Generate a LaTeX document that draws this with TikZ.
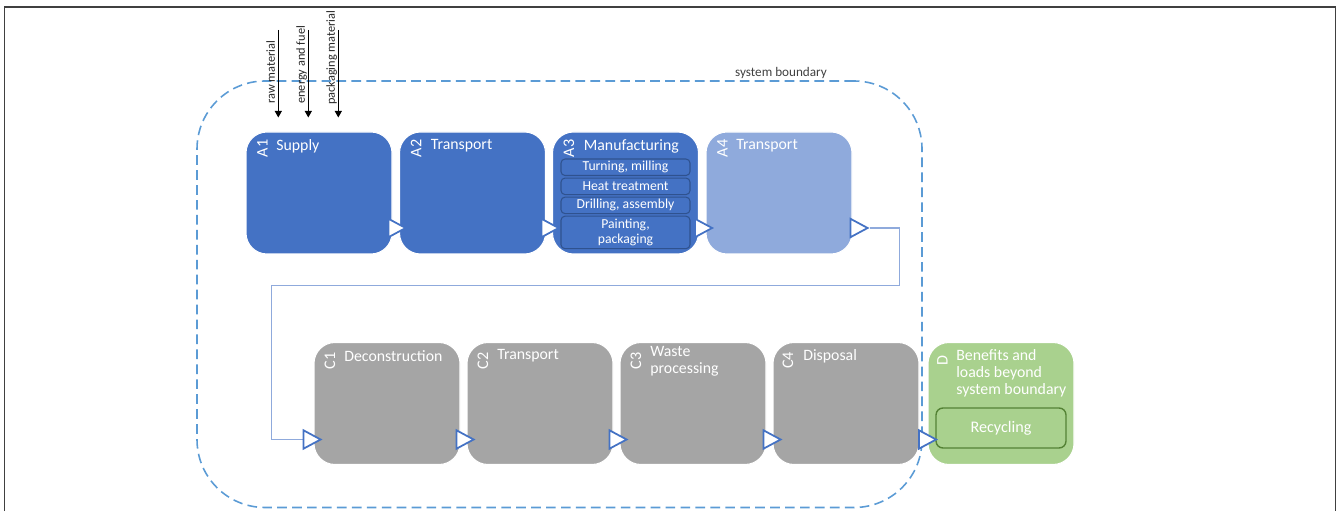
\documentclass[tikz,border=0pt]{standalone}
\usepackage{fontspec}
\setmainfont{Carlito}
\definecolor{stageblue}{RGB}{68, 114, 196}
\definecolor{stagelight}{RGB}{143, 170, 220}
\definecolor{stagegray}{RGB}{165, 165, 165}
\definecolor{stagegreen}{RGB}{169, 209, 142}
\definecolor{darkgreen}{RGB}{84, 130, 53}
\definecolor{darkblue}{RGB}{47, 82, 143}
\definecolor{boundblue}{RGB}{91, 155, 213}
\definecolor{linkblue}{RGB}{143, 170, 220}
\definecolor{framegray}{RGB}{64, 64, 64}
\usetikzlibrary{arrows.meta, positioning}
\tikzset{
    stagebox/.style={rectangle, rounded corners=0.42cm, draw=white, line width=0.6pt, fill=#1,
                     minimum width=2.92cm, minimum height=2.44cm, inner sep=0pt, outer sep=0pt},
    substep/.style={rectangle, rounded corners=0.08cm, draw=darkblue, line width=0.6pt, fill=stageblue,
                    minimum width=2.58cm, minimum height=0.33cm, inner sep=0pt, align=center,
                    text=white, font=\fontsize{7.8}{8.6}\selectfont},
    codelabel/.style={rotate=90, inner sep=0pt, text=white, font=\fontsize{9.2}{10}\selectfont},
    stagetitle/.style={anchor=west, inner sep=0pt, align=left, text=white, font=\fontsize{9}{9.8}\selectfont},
    steparrow/.style={stageblue, line width=1pt, -{Triangle[length=0.4cm, width=0.42cm, fill=white]}},
    linkline/.style={linkblue, line width=0.8pt,
                     -{Triangle[length=0.4cm, width=0.42cm, color=stageblue, fill=white, line width=1pt]}},
    feedarrow/.style={-{Triangle[length=0.13cm, width=0.14cm]}, line width=0.6pt, black},
    feedlabel/.style={rotate=90, anchor=base west, inner sep=0pt, text=black!85, font=\fontsize{7}{8}\selectfont},
    boundarybox/.style={draw=boundblue, dash pattern=on 5.5pt off 3pt, line width=0.9pt, rounded corners=1.36cm},
}

\begin{document}
\begin{tikzpicture}
    \useasboundingbox (0,0) rectangle (26.74,10.22);
    % outer frame
    \draw[framegray, line width=1.1pt] (0.09,0) |- (26.71,10.08) -- (26.71,0);

    % system boundary
    \node[boundarybox, minimum width=14.5cm, minimum height=8.53cm] (boundary) at (11.19,4.335) {};
    \node[font=\fontsize{7.5}{9}\selectfont, text=framegray] (boundlabel) at (15.62,8.77) {system boundary};

    % product stage A1-A4
    \node[stagebox=stageblue] (A1) at (6.38,6.36) {};
    \node[stagebox=stageblue, right=0.15cm of A1] (A2) {};
    \node[stagebox=stageblue, right=0.14cm of A2] (A3) {};
    \node[stagebox=stagelight, right=0.15cm of A3] (A4) {};

    \node[codelabel] (A1c) at ([xshift=0.33cm, yshift=-0.33cm]A1.north west) {A1};
    \node[stagetitle] (A1t) at ([xshift=0.6cm, yshift=-0.28cm]A1.north west) {Supply};
    \node[codelabel] (A2c) at ([xshift=0.33cm, yshift=-0.33cm]A2.north west) {A2};
    \node[stagetitle] (A2t) at ([xshift=0.62cm, yshift=-0.28cm]A2.north west) {Transport};
    \node[codelabel] (A3c) at ([xshift=0.33cm, yshift=-0.33cm]A3.north west) {A3};
    \node[stagetitle] (A3t) at ([xshift=0.62cm, yshift=-0.28cm]A3.north west) {Manufacturing};
    \node[codelabel] (A4c) at ([xshift=0.33cm, yshift=-0.33cm]A4.north west) {A4};
    \node[stagetitle] (A4t) at ([xshift=0.6cm, yshift=-0.28cm]A4.north west) {Transport};

    % manufacturing steps
    \node[substep, below=0.53cm of A3.north] (turn) {Turning, milling};
    \node[substep, below=0.03cm of turn] (heat) {Heat treatment};
    \node[substep, below=0.03cm of heat] (drill) {Drilling, assembly};
    \node[substep, below=0.03cm of drill, minimum height=0.65cm] (paint) {Painting,\\packaging};

    % material and energy inputs
    \coordinate (in1) at (5.566,9.62);
    \coordinate (in2) at (6.166,9.62);
    \coordinate (in3) at (6.766,9.62);
    \draw[feedarrow, shorten >=0.29cm] (in1) -- (in1 |- A1.north);
    \draw[feedarrow, shorten >=0.29cm] (in2) -- (in2 |- A1.north);
    \draw[feedarrow, shorten >=0.29cm] (in3) -- (in3 |- A1.north);
    \node[feedlabel] (rawlab) at ([xshift=-0.07cm, yshift=-1.48cm]in1) {raw material};
    \node[feedlabel] (energylab) at ([xshift=-0.07cm, yshift=-1.48cm]in2) {energy and fuel};
    \node[feedlabel] (packlab) at ([xshift=-0.07cm, yshift=-1.5cm]in3) {packaging material};

    % end of life stage C1-C4 and module D
    \node[stagebox=stagegray] (C1) at (7.74,2.15) {};
    \node[stagebox=stagegray, right=0.14cm of C1] (C2) {};
    \node[stagebox=stagegray, right=0.14cm of C2] (C3) {};
    \node[stagebox=stagegray, right=0.14cm of C3] (C4) {};
    \node[stagebox=stagegreen, right=0.18cm of C4] (D) {};

    \node[codelabel] (C1c) at ([xshift=0.32cm, yshift=-0.37cm]C1.north west) {C1};
    \node[stagetitle] (C1t) at ([xshift=0.6cm, yshift=-0.27cm]C1.north west) {Deconstruction};
    \node[codelabel] (C2c) at ([xshift=0.32cm, yshift=-0.37cm]C2.north west) {C2};
    \node[stagetitle] (C2t) at ([xshift=0.6cm, yshift=-0.27cm]C2.north west) {Transport};
    \node[codelabel] (C3c) at ([xshift=0.32cm, yshift=-0.37cm]C3.north west) {C3};
    \node[stagetitle] (C3t) at ([xshift=0.6cm, yshift=-0.38cm]C3.north west) {Waste\\processing};
    \node[codelabel] (C4c) at ([xshift=0.3cm, yshift=-0.36cm]C4.north west) {C4};
    \node[stagetitle] (C4t) at ([xshift=0.6cm, yshift=-0.27cm]C4.north west) {Disposal};
    \node[codelabel] (Dc) at ([xshift=0.29cm, yshift=-0.36cm]D.north west) {D};
    \node[stagetitle] (Dt) at ([xshift=0.56cm, yshift=-0.62cm]D.north west) {Benefits and\\loads beyond\\system boundary};
    \node[rectangle, rounded corners=0.14cm, draw=darkgreen, fill=stagegreen, line width=0.8pt,
          minimum width=2.6cm, minimum height=0.8cm, text=white, font=\fontsize{9.2}{10}\selectfont]
          (recycling) at ([yshift=-1.71cm]D.north) {Recycling};

    % flow between stages
    \draw[steparrow] ([yshift=0.52cm]A1.south east) -- ([xshift=0.16cm, yshift=0.52cm]A2.south west);
    \draw[steparrow] ([yshift=0.52cm]A2.south east) -- ([xshift=0.16cm, yshift=0.52cm]A3.south west);
    \draw[steparrow] ([yshift=0.52cm]A3.south east) -- ([xshift=0.16cm, yshift=0.52cm]A4.south west);
    \draw[steparrow] ([yshift=0.52cm]A4.south east) -- ([xshift=0.35cm, yshift=0.52cm]A4.south east) coordinate (A4out);

    \coordinate (turnback) at (5.43,4.51);
    \draw[linkline] (A4out) -- ++(0.6,0) |- (turnback) |- ([xshift=0.17cm, yshift=0.5cm]C1.south west);

    \draw[steparrow] ([yshift=0.5cm]C1.south east) -- ([xshift=0.17cm, yshift=0.5cm]C2.south west);
    \draw[steparrow] ([yshift=0.5cm]C2.south east) -- ([xshift=0.17cm, yshift=0.5cm]C3.south west);
    \draw[steparrow] ([yshift=0.5cm]C3.south east) -- ([xshift=0.19cm, yshift=0.5cm]C4.south west);
    \draw[steparrow] ([yshift=0.5cm]C4.south east) -- ([xshift=0.2cm, yshift=0.5cm]D.south west);
\end{tikzpicture}
\end{document}
